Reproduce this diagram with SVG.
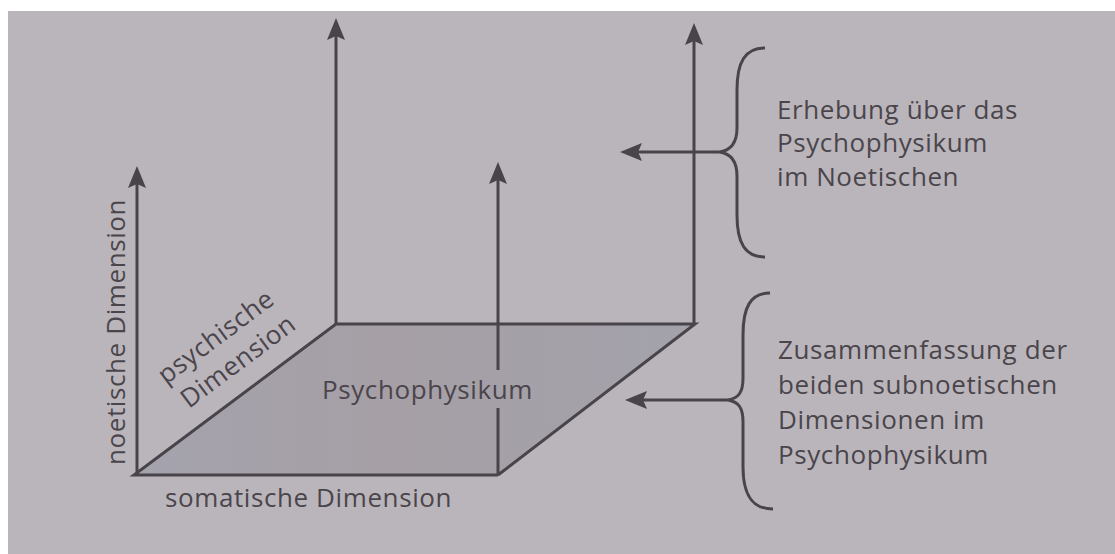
<svg xmlns="http://www.w3.org/2000/svg" width="1115" height="554" viewBox="0 0 1115 554">
<defs>
<linearGradient id="plane" x1="0" y1="0" x2="1" y2="0">
<stop offset="0" stop-color="#a4a3ad"/>
<stop offset="0.45" stop-color="#a69fa6"/>
<stop offset="1" stop-color="#a3a2ab"/>
</linearGradient>
<marker id="ah" markerUnits="userSpaceOnUse" markerWidth="22" markerHeight="18" viewBox="0 0 22 18" refX="4" refY="9" orient="auto">
<path d="M0,0 L22,9 L0,18 L4,9 Z" fill="#48444a"/>
</marker>
<style>
.ln{stroke:#48444a;stroke-width:3;fill:none}
.ar{stroke:#48444a;stroke-width:3;fill:none;marker-end:url(#ah)}
.t{font-family:"Open Sans","Liberation Sans",sans-serif;font-size:26px;letter-spacing:0.6px;fill:#4a454b}
</style>
</defs>
<rect width="1115" height="554" fill="#ffffff"/>
<rect x="8" y="11" width="1107" height="543" fill="#bab5bb"/>
<g id="plane-node">
<polygon points="134,475 336,324 695,324 498,475" fill="url(#plane)"/>
<text class="t" x="322" y="399">Psychophysikum</text>
</g>
<g id="connectors">
<polyline class="ln" points="498,475 134,475 336,324 695,324 498,475"/>
<line class="ar" x1="137" y1="475" x2="137" y2="184"/>
<line class="ar" x1="336" y1="324" x2="336" y2="36"/>
<line class="ar" x1="694" y1="324" x2="694" y2="41"/>
<line class="ln" x1="498" y1="475" x2="498" y2="408"/>
<line class="ar" x1="498" y1="370" x2="498" y2="180"/>
<line class="ar" x1="722" y1="152" x2="638" y2="152"/>
<line class="ar" x1="728" y1="400" x2="643" y2="400"/>
</g>
<g id="axis-labels">
<text class="t" transform="translate(125,465) rotate(-90)">noetische Dimension</text>
<text class="t" x="165" y="507">somatische Dimension</text>
<text class="t" transform="translate(166,385) rotate(-36.8)">psychische<tspan x="4" dy="33">Dimension</tspan></text>
</g>
<g id="brace-top">
<path class="ln" d="M765,48 C745,48 737,62 737,90 L737,128 C737,142 732,150 720,152 C732,154 737,162 737,176 L737,215 C737,243 745,257 765,257"/>
<text class="t" x="777" y="119">Erhebung über das</text>
<text class="t" x="777" y="152">Psychophysikum</text>
<text class="t" x="777" y="186">im Noetischen</text>
</g>
<g id="brace-bottom">
<path class="ln" d="M770,293 C750,293 743,308 743,335 L743,378 C743,392 739,398 728,400 C739,402 743,408 743,422 L743,467 C743,495 752,509 773,509"/>
<text class="t" x="778" y="359">Zusammenfassung der</text>
<text class="t" x="778" y="394">beiden subnoetischen</text>
<text class="t" x="778" y="429">Dimensionen im</text>
<text class="t" x="778" y="464">Psychophysikum</text>
</g>
</svg>
